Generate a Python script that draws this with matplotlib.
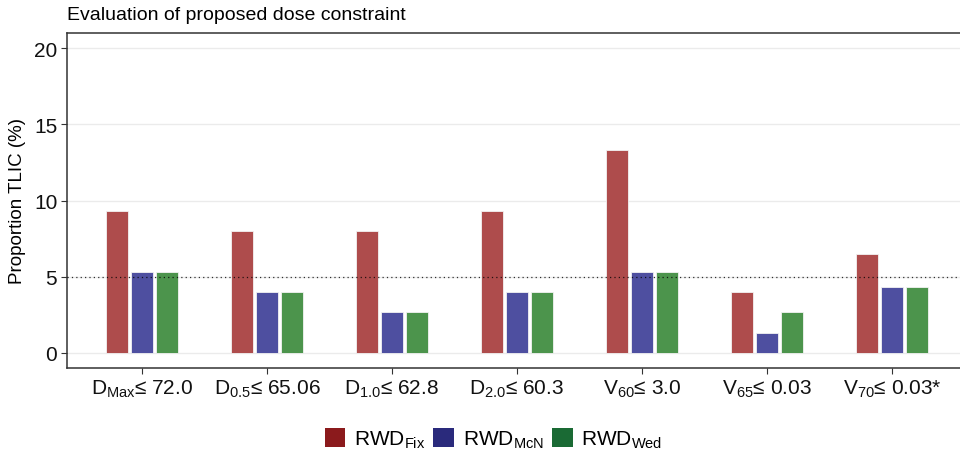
import numpy as np
import matplotlib
matplotlib.use("Agg")
import matplotlib.pyplot as plt
from matplotlib.patches import Patch

plt.rcParams.update({
    "font.family": ["Liberation Sans", "DejaVu Sans"],
    "mathtext.fontset": "custom",
    "mathtext.rm": "Liberation Sans",
    "mathtext.it": "Liberation Sans:italic",
    "mathtext.bf": "Liberation Sans:bold",
})

# ─── Data ─────────────────────────────────────────────────────────────────────
constraints = [
    r"D$_{\mathrm{Max}}$≤ 72.0",
    r"D$_{\mathrm{0.5}}$≤ 65.06",
    r"D$_{\mathrm{1.0}}$≤ 62.8",
    r"D$_{\mathrm{2.0}}$≤ 60.3",
    r"V$_{\mathrm{60}}$≤ 3.0",
    r"V$_{\mathrm{65}}$≤ 0.03",
    r"V$_{\mathrm{70}}$≤ 0.03*",
]
rwd_fix = [9.33, 8.0, 8.0, 9.33, 13.33, 4.0, 6.5]
rwd_mcn = [5.33, 4.0, 2.67, 4.0, 5.33, 1.33, 4.3]
rwd_wed = [5.33, 4.0, 2.67, 4.0, 5.33, 2.67, 4.3]
threshold = 5

# (values, legend label, key colour, bar fill)
series = [
    (rwd_fix, r"RWD$_{\mathrm{Fix}}$", "#8B1A1C", "#AE4C4C"),
    (rwd_mcn, r"RWD$_{\mathrm{McN}}$", "#2A2A7C", "#4E4FA0"),
    (rwd_wed, r"RWD$_{\mathrm{Wed}}$", "#1A6A34", "#4C944C"),
]

# ─── Figure ───────────────────────────────────────────────────────────────────
fig = plt.figure(figsize=(9.6, 4.56), dpi=100)
ax = fig.add_axes([67 / 960, 87 / 456, 900 / 960, 335 / 456])

x = np.arange(1, len(constraints) + 1)
offsets = [-0.2, 0.0, 0.2]
for (vals, _, _, fill), off in zip(series, offsets):
    ax.bar(x + off, vals, width=0.17, color=fill,
           edgecolor="#F2F2F2", linewidth=0.6, zorder=3)

ax.axhline(threshold, color="black", linestyle=(0, (1, 2.5)), linewidth=0.9,
           alpha=0.8, zorder=4)

ax.set_xlim(0.4, 7.6)
ax.set_ylim(-1, 21)
ax.set_yticks([0, 5, 10, 15, 20])
ax.set_xticks(x)
ax.set_xticklabels(constraints)
ax.grid(axis="y", color="#EBEBEB", linewidth=1.0, zorder=0)
ax.set_axisbelow(True)

for s in ax.spines.values():
    s.set_color("#333333")
    s.set_linewidth(1.1)
ax.tick_params(axis="both", length=4, width=0.8, color="#333333",
               labelsize=15, labelcolor="#111111", pad=3)
ax.set_ylabel("Proportion TLIC (%)", fontsize=13.5, labelpad=6)

fig.text(67 / 960, 1 - 16 / 456, "Evaluation of proposed dose constraint",
         fontsize=14, va="center", ha="left")

handles = [Patch(facecolor=c, edgecolor="none", label=l) for _, l, c, _ in series]
fig.legend(handles=handles, loc="center", bbox_to_anchor=(0.514, 0.035),
           ncol=3, frameon=False, fontsize=15, handlelength=1.0,
           handleheight=1.0, handletextpad=0.4, columnspacing=0.4)

fig.savefig("out.png", dpi=100)
